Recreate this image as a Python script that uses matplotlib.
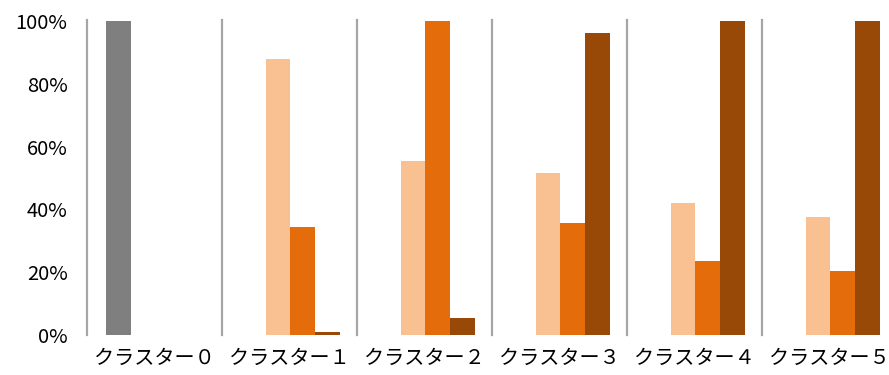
import matplotlib.pyplot as plt
import numpy as np

plt.rcParams['font.family'] = ['Noto Sans CJK JP', 'DejaVu Sans']

clusters = ["クラスター０", "クラスター１", "クラスター２", "クラスター３", "クラスター４", "クラスター５"]
gray_vals = [100, 0, 0, 0, 0, 0]
peach_vals = [0, 87.8, 55.4, 51.6, 42.1, 37.6]
orange_vals = [0, 34.4, 100, 35.7, 23.6, 20.4]
brown_vals = [0, 0.85, 5.3, 96.1, 100, 100]

series = [gray_vals, peach_vals, orange_vals, brown_vals]
colors = ["#7f7f7f", "#f9c091", "#e46c0a", "#984807"]

fig = plt.figure(figsize=(8.89, 3.75), dpi=100)
ax = fig.add_axes([87 / 889, 40 / 375, 810 / 889, 314 / 375])

x = np.arange(len(clusters))
w = 0.183
for i, (vals, c) in enumerate(zip(series, colors)):
    ax.bar(x + (i - 1.5) * w + 0.006, np.array(vals) / 100, width=w, color=c,
           edgecolor="none", zorder=2)

# group separators
for s in np.arange(len(clusters)) - 0.5:
    ax.axvline(s, ymin=0, ymax=1.003, color="#a6a6a6", lw=1.6, clip_on=False, zorder=1)

ax.set_xlim(-0.5, 5.5)
ax.set_ylim(0, 1)
ax.set_yticks(np.linspace(0, 1, 6))
ax.set_yticklabels([f"{int(v)}%" for v in np.linspace(0, 100, 6)], fontsize=14.5)
ax.set_xticks(x)
ax.set_xticklabels(clusters, fontsize=14.5)
ax.tick_params(length=0)
ax.tick_params(axis="y", pad=14)
ax.tick_params(axis="x", pad=9)
for sp in ax.spines.values():
    sp.set_visible(False)

fig.savefig("out.png", dpi=100)
